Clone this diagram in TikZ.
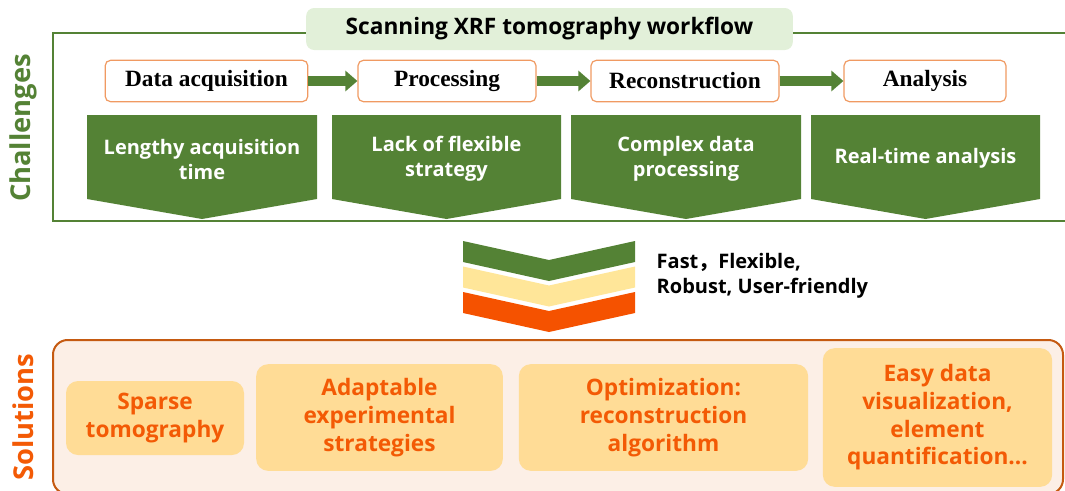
\documentclass[tikz,border=0pt]{standalone}
\usepackage{fontspec}
\setmainfont{Open Sans}
\newfontfamily\procfont{Liberation Serif}
\newfontfamily\cjk{Noto Sans CJK SC}
\usetikzlibrary{arrows.meta, positioning}
\definecolor{chalgreen}{HTML}{548235}
\definecolor{titlefill}{HTML}{E2F0D9}
\definecolor{procline}{HTML}{F09A62}
\definecolor{softyellow}{HTML}{FFE699}
\definecolor{chevorange}{HTML}{F55200}
\definecolor{solorange}{HTML}{F35A05}
\definecolor{solline}{HTML}{C55A11}
\definecolor{solbg}{HTML}{FCEFE6}
\definecolor{solfill}{HTML}{FFDC96}

\begin{document}
\begin{tikzpicture}[x=0.75pt, y=-0.75pt,
    procbox/.style={rectangle, rounded corners=4pt, draw=procline, line width=0.9pt, fill=white,
                minimum height=31pt, font=\procfont\bfseries\fontsize{17.5}{20}\selectfont},
    chaltext/.style={text=white, align=center, font=\bfseries\fontsize{15}{18.75}\selectfont},
    solbox/.style={rectangle, rounded corners=9pt, fill=solfill, text=solorange, align=center,
                font=\bfseries\fontsize{17}{20.8}\selectfont},
    flow/.style={-{Triangle[length=9pt, width=15pt]}, line width=7.5pt, draw=chalgreen},
    sidelabel/.style={rotate=90, font=\bfseries\fontsize{20.5}{22}\selectfont}
  ]
    \useasboundingbox (0,0) rectangle (1065,490);

    % challenges frame
    \draw[chalgreen, line width=1.5pt] (53,33) rectangle (1075,221);
    \node[rectangle, rounded corners=6pt, fill=titlefill, minimum width=365pt, minimum height=31.5pt,
          font=\bfseries\fontsize{17}{20}\selectfont] (title) at (549.5,29) {Scanning XRF tomography workflow};

    \node[procbox, minimum width=152pt]   (acq)   at (206.5,81) {Data acquisition};
    \node[procbox, minimum width=133.5pt] (proc)  at (447,81)   {Processing};
    \node[procbox, minimum width=141pt]   (recon) at (685,81)   {Reconstruction};
    \node[procbox, minimum width=121.5pt] (ana)   at (925,81)   {Analysis};

    \draw[flow] (acq) -- (proc);
    \draw[flow] (proc) -- (recon);
    \draw[flow] (recon) -- (ana);

    \foreach \l/\r in {87/317, 332/561, 571/801, 811/1040}
      \fill[chalgreen] (\l,115) -- (\r,115) -- (\r,199) -- ({(\l+\r)/2},219) -- (\l,199) -- cycle;
    \node[chaltext] (lengthy)  at (202,159)   {Lengthy acquisition\\time};
    \node[chaltext] (lack)     at (446.5,159) {Lack of flexible\\strategy};
    \node[chaltext] (complex)  at (686,159)   {Complex data\\processing};
    \node[chaltext] (realtime) at (925.5,158) {Real-time analysis};

    % chevrons
    \foreach \c/\t in {chalgreen/241, softyellow/266.5, chevorange/292}
      \fill[\c] (463,\t) -- (549,{\t+19}) -- (635,\t) -- (635,{\t+21}) -- (549,{\t+40}) -- (463,{\t+21}) -- cycle;
    \node[anchor=west, align=left, font=\bfseries\fontsize{15}{19}\selectfont] (goals) at (652,276)
      {Fast{\cjk ，}Flexible,\\Robust, User-friendly};

    % solutions frame
    \draw[solline, line width=1.5pt, fill=solbg, rounded corners=11pt] (53,340) rectangle (1063,494);
    \node[solbox, minimum width=133.5pt, minimum height=55.5pt] (sparse) at (155,418)     {Sparse\\tomography};
    \node[solbox, minimum width=185pt, minimum height=80pt]     (adapt)  at (379.5,417.5) {Adaptable\\experimental\\strategies};
    \node[solbox, minimum width=217pt, minimum height=80pt]     (optim)  at (663.5,417.5) {Optimization:\\reconstruction\\algorithm};
    \node[solbox, minimum width=172pt, minimum height=104pt]    (easy)   at (937.5,417.5) {Easy data\\visualization,\\element\\quantification...};

    \node[sidelabel, text=chalgreen] (chal) at (23,128) {Challenges};
    \node[sidelabel, text=solorange] (sol)  at (23,417) {Solutions};
  \end{tikzpicture}
\end{document}
